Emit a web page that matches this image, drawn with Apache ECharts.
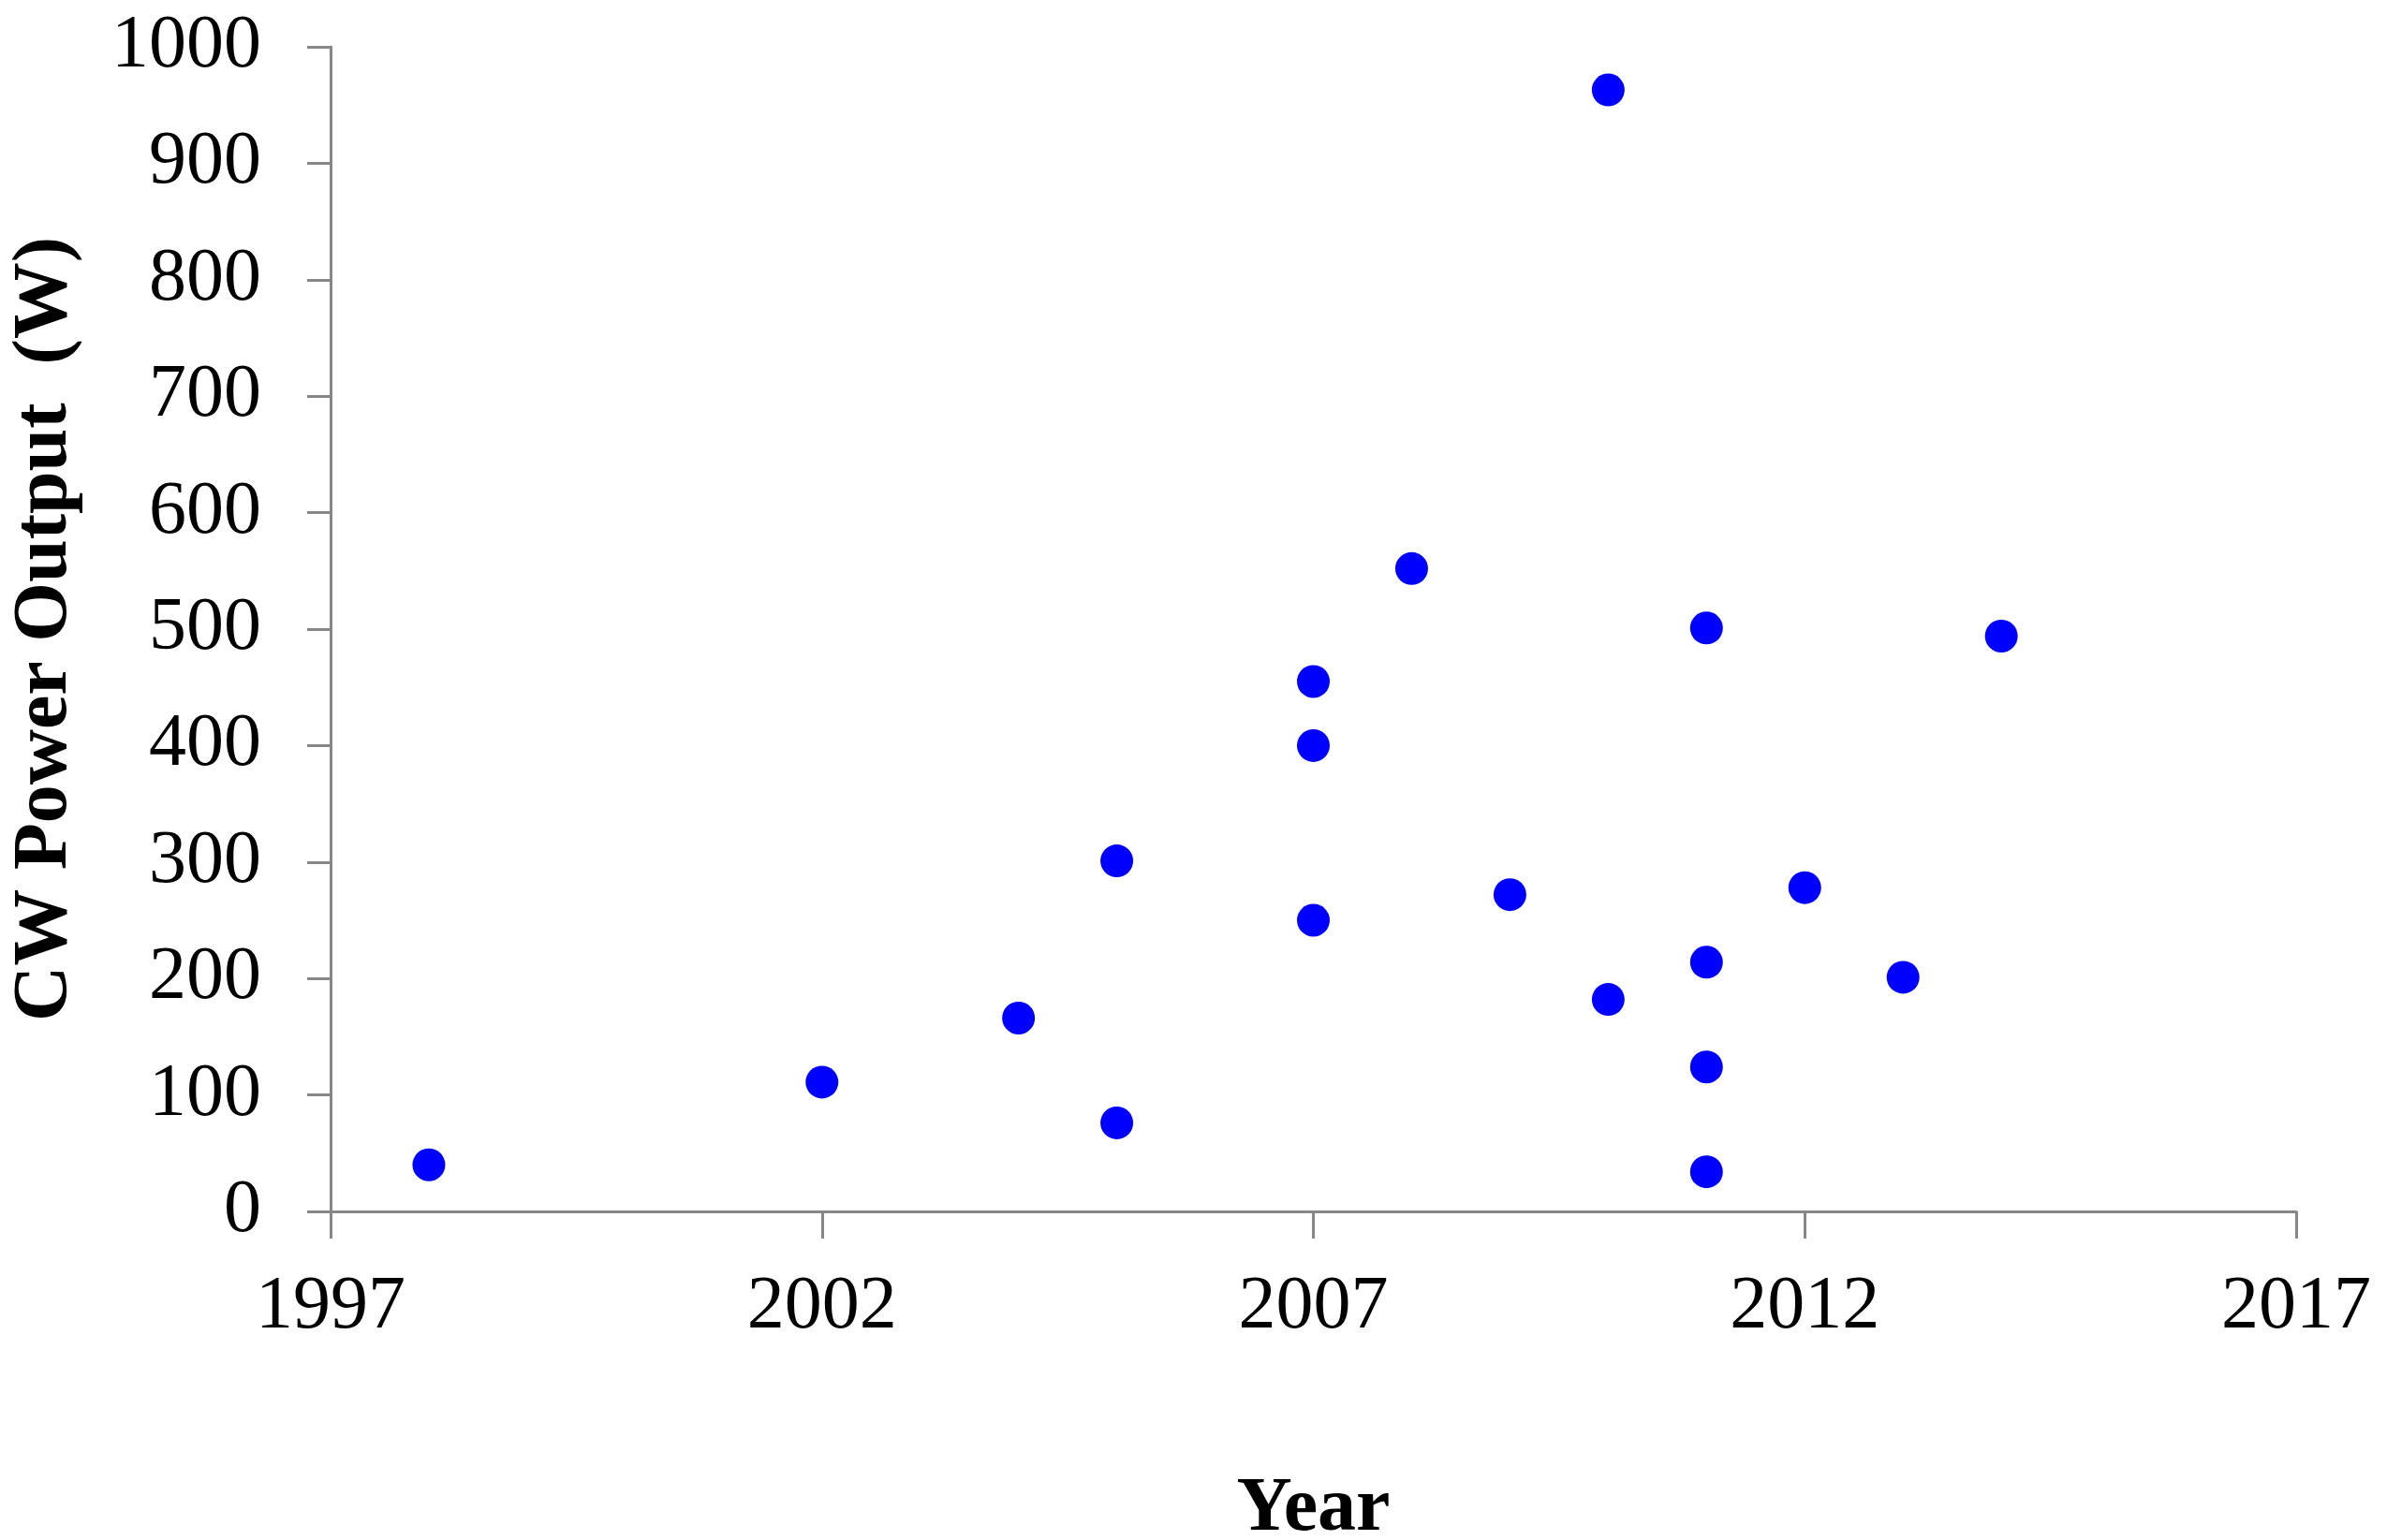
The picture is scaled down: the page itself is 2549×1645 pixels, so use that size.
<!DOCTYPE html>
<html>
<head>
<meta charset="utf-8">
<script src="https://cdn.jsdelivr.net/npm/echarts@6/dist/echarts.min.js"></script>
<style>
  html, body { margin: 0; padding: 0; background: #fff; }
  #chart { width: 2549px; height: 1645px; }
</style>
</head>
<body>
<div id="chart"></div>
<script>
// data
const years = [1998, 2002, 2004, 2005, 2005, 2007, 2007, 2007, 2008, 2009, 2010, 2010, 2011, 2011, 2011, 2011, 2012, 2013, 2014];
const power = [40, 111, 166, 301, 76, 455, 400, 250, 552, 272, 963, 182, 501, 214, 124, 34, 278, 201, 494];

const xTicks = [1997, 2002, 2007, 2012, 2017];
const yTicks = [0, 100, 200, 300, 400, 500, 600, 700, 800, 900, 1000];

const points = years.map((y, i) => [y, power[i]]);

const myChart = echarts.init(document.getElementById('chart'));

const font = 'Liberation Serif, Times New Roman, serif';
const axisGray = '#878787';

const option = {
  animation: false,
  backgroundColor: '#fff',
  grid: {
    left: 353,
    right: 97,
    top: 50,
    bottom: 351,
    containLabel: false,
    outerBoundsMode: 'none'
  },
  xAxis: {
    type: 'value',
    min: xTicks[0],
    max: xTicks[xTicks.length - 1],
    interval: 5,
    name: 'Year',
    nameLocation: 'middle',
    nameGap: 278,
    nameTextStyle: { fontFamily: font, fontWeight: 'bold', fontSize: 82, color: '#000' },
    axisLine: { show: true, lineStyle: { color: axisGray, width: 3 } },
    axisTick: { show: true, inside: false, length: 29, lineStyle: { color: axisGray, width: 3 } },
    axisLabel: { fontFamily: font, fontSize: 80, color: '#000', margin: 63, formatter: v => String(v) },
    splitLine: { show: false }
  },
  yAxis: {
    type: 'value',
    min: yTicks[0],
    max: yTicks[yTicks.length - 1],
    interval: 100,
    name: 'CW Power Output  (W)',
    nameLocation: 'middle',
    nameGap: 263,
    nameTextStyle: { fontFamily: font, fontWeight: 'bold', fontSize: 82, color: '#000' },
    axisLine: { show: true, lineStyle: { color: axisGray, width: 3 } },
    axisTick: { show: true, inside: false, length: 25, lineStyle: { color: axisGray, width: 3 } },
    axisLabel: { fontFamily: font, fontSize: 80, color: '#000', margin: 74, formatter: v => String(v) },
    splitLine: { show: false }
  },
  series: [
    {
      type: 'scatter',
      data: points,
      symbol: 'circle',
      symbolSize: 35,
      itemStyle: { color: '#0000FF', opacity: 1 }
    }
  ]
};

myChart.setOption(option);
</script>
</body>
</html>
